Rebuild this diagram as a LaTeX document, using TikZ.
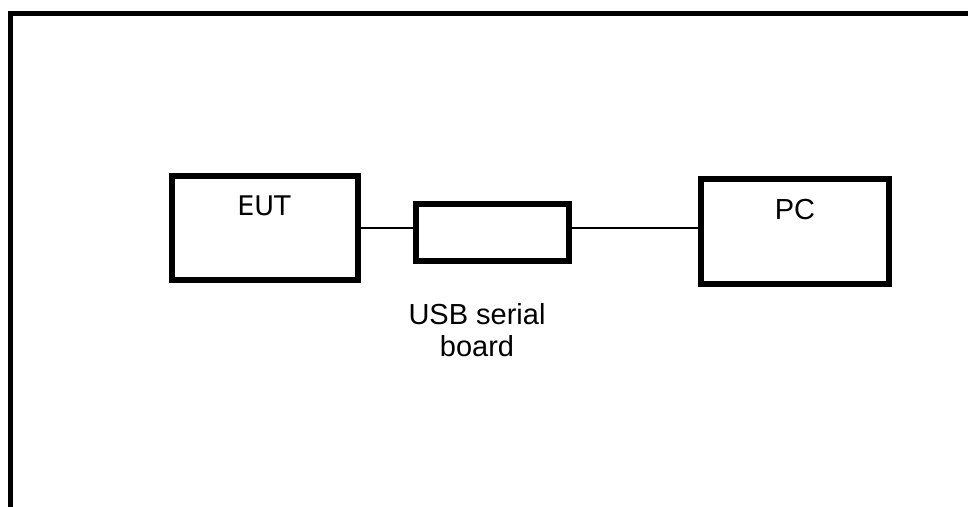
\documentclass[tikz,border=0pt]{standalone}
\usepackage{fontspec}
\setmainfont{Liberation Sans}
\newfontfamily\dejavu{DejaVu Sans}
\begin{document}
\begin{tikzpicture}[x=1pt,y=-1pt,
  box/.style={draw=black, line width=6pt, fill=white, rectangle, inner sep=0pt},
  lbl/.style={inner sep=0pt, font=\fontsize{29}{32}\selectfont},
  wire/.style={draw=black, line width=1.5pt}]
\useasboundingbox (0,0) rectangle (968,506);
\begin{scope}
\clip (0,0) rectangle (968,506);
\draw[line width=5pt, line join=miter] (10.5,520) -- (10.5,13.5) -- (990,13.5);
\end{scope}
\node[box, minimum width=186pt, minimum height=104pt] (eut) at (265,228) {};
\node[lbl, font=\dejavu\fontsize{27}{32}\selectfont] (eutlbl) at (264,205.5) {EUT};
\node[box, minimum width=153pt, minimum height=57pt] (usb) at (492.5,232.5) {};
\node[box, minimum width=188pt, minimum height=105pt] (pc) at (795,231.5) {};
\node[lbl] (pclbl) at (795,210) {PC};
\node[lbl, align=center, anchor=north] (usblbl) at (477,303.5) {USB serial\\board};
\draw[wire] (eut.east) -- (eut.east -| usb.west);
\draw[wire] (usb.east |- eut.east) -- (pc.west |- eut.east);
\end{tikzpicture}
\end{document}
